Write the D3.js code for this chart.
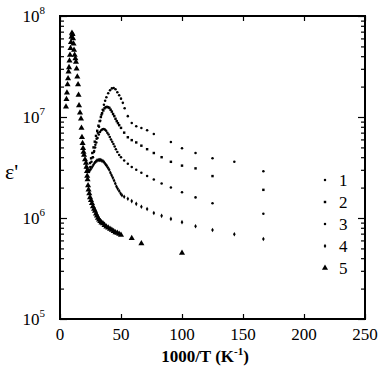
<!DOCTYPE html>
<html>
<head>
<meta charset="utf-8">
<script src="https://cdn.jsdelivr.net/npm/d3@7"></script>
<style>
  body { margin: 0; background: #fff; }
  svg text { font-family: "Liberation Serif", "DejaVu Serif", serif; fill: #000; }
</style>
</head>
<body>
<div id="chart"></div>
<script>
// 1000/T (K^-1) and permittivity values
const s1X = [27.0, 28.0, 29.0, 30.0, 31.0, 32.0, 33.0, 34.0, 35.0, 36.0, 37.0, 38.0, 39.5, 41.0, 42.5, 44.0, 45.5, 47.0, 48.5, 50.0, 51.5, 53.0, 55.6, 58.8, 62.5, 66.7, 71.4, 76.9, 90.9, 100, 111.1, 125, 142.9, 166.7];
const s1Y = [4.0e6, 4.6e6, 5.3e6, 6.1e6, 7.0e6, 8.0e6, 9.2e6, 1.05e7, 1.18e7, 1.32e7, 1.45e7, 1.57e7, 1.72e7, 1.84e7, 1.92e7, 1.94e7, 1.88e7, 1.76e7, 1.64e7, 1.52e7, 1.38e7, 1.22e7, 1.02e7, 8.7e6, 8.1e6, 7.8e6, 7.4e6, 6.8e6, 5.65e6, 4.9e6, 4.4e6, 3.9e6, 3.6e6, 2.9e6];

const s2X = [24.6, 25.5, 26.5, 27.5, 28.5, 29.5, 30.5, 31.5, 32.5, 33.5, 34.5, 35.5, 36.5, 37.5, 38.5, 39.5, 40.5, 41.5, 42.5, 43.5, 44.5, 45.5, 46.5, 47.5, 48.5, 50.0, 52.6, 55.6, 58.8, 62.5, 66.7, 71.4, 76.9, 83.3, 90.9, 100, 111.1, 125, 166.7];
const s2Y = [3.5e6, 3.9e6, 4.4e6, 5.0e6, 5.7e6, 6.5e6, 7.3e6, 8.2e6, 9.1e6, 1.0e7, 1.09e7, 1.16e7, 1.22e7, 1.25e7, 1.26e7, 1.25e7, 1.23e7, 1.18e7, 1.13e7, 1.07e7, 1.02e7, 9.6e6, 9.1e6, 8.7e6, 8.3e6, 7.8e6, 7.0e6, 6.3e6, 5.9e6, 5.6e6, 5.2e6, 4.8e6, 4.4e6, 4.0e6, 3.6e6, 3.3e6, 3.1e6, 2.6e6, 1.9e6];

const s3X = [23.8, 24.8, 25.8, 26.8, 27.8, 28.8, 29.8, 30.8, 31.8, 32.8, 33.8, 34.8, 35.8, 36.8, 37.8, 38.8, 39.8, 40.8, 41.8, 42.8, 43.8, 44.8, 45.8, 47.0, 48.5, 50.0, 52.6, 55.6, 58.8, 62.5, 66.7, 71.4, 76.9, 83.3, 90.9, 100, 111.1, 125, 166.7];
const s3Y = [2.85e6, 3.2e6, 3.6e6, 4.0e6, 4.5e6, 5.0e6, 5.6e6, 6.2e6, 6.7e6, 7.1e6, 7.4e6, 7.55e6, 7.6e6, 7.5e6, 7.3e6, 7.0e6, 6.7e6, 6.35e6, 6.0e6, 5.7e6, 5.4e6, 5.1e6, 4.8e6, 4.5e6, 4.2e6, 4.0e6, 3.7e6, 3.45e6, 3.2e6, 3.0e6, 2.8e6, 2.6e6, 2.4e6, 2.2e6, 2.0e6, 1.8e6, 1.6e6, 1.4e6, 1.1e6];

const s4X = [21.3, 22.3, 23.3, 24.3, 25.3, 26.3, 27.3, 28.3, 29.3, 30.3, 31.3, 32.3, 33.3, 34.3, 35.3, 36.3, 37.3, 38.3, 39.3, 40.3, 41.3, 42.3, 43.3, 44.3, 45.3, 46.3, 47.3, 48.5, 49.7, 50.8, 52.6, 55.6, 58.8, 62.5, 66.7, 71.4, 76.9, 83.3, 90.9, 100, 111.1, 125, 142.9, 166.7];
const s4Y = [3.2e6, 3.05e6, 2.95e6, 2.95e6, 3.05e6, 3.2e6, 3.35e6, 3.5e6, 3.6e6, 3.7e6, 3.75e6, 3.75e6, 3.75e6, 3.7e6, 3.65e6, 3.55e6, 3.4e6, 3.3e6, 3.15e6, 3.0e6, 2.8e6, 2.65e6, 2.5e6, 2.35e6, 2.2e6, 2.05e6, 1.95e6, 1.85e6, 1.75e6, 1.68e6, 1.62e6, 1.55e6, 1.47e6, 1.38e6, 1.29e6, 1.23e6, 1.12e6, 1.05e6, 9.8e5, 9.1e5, 8.3e5, 7.6e5, 6.9e5, 6.2e5];

const s5X = [4.9, 5.3, 5.7, 6.2, 6.6, 7.0, 7.4, 7.8, 8.2, 8.6, 9.0, 9.4, 9.8, 10.3, 10.7, 11.1, 11.5, 12.0, 12.6, 13.1, 13.6, 14.2, 14.8, 15.2, 15.6, 16.4, 17.2, 17.6, 18.0, 18.5, 18.9, 19.3, 19.7, 20.5, 21.3, 21.7, 22.1, 22.3, 22.6, 23.0, 23.4, 24.0, 24.6, 25.4, 26.2, 27.0, 27.9, 28.7, 29.5, 30.3, 31.1, 32.0, 33.0, 34.0, 35.2, 36.5, 38.0, 39.5, 41.0, 42.5, 44.0, 45.5, 47.0, 48.5, 50.0, 58.8, 66.7, 100];
const s5Y = [1.26e7, 1.5e7, 1.74e7, 2.1e7, 2.4e7, 2.8e7, 3.1e7, 3.6e7, 4.1e7, 4.8e7, 5.5e7, 6.2e7, 6.8e7, 6.6e7, 6.0e7, 5.3e7, 4.6e7, 4.1e7, 3.8e7, 3.5e7, 3.0e7, 2.5e7, 2.1e7, 1.65e7, 1.3e7, 1.1e7, 9.6e6, 7.8e6, 6.3e6, 5.5e6, 4.9e6, 4.5e6, 4.2e6, 3.8e6, 3.5e6, 3.2e6, 2.9e6, 2.6e6, 2.4e6, 2.1e6, 1.9e6, 1.75e6, 1.6e6, 1.5e6, 1.4e6, 1.3e6, 1.23e6, 1.17e6, 1.1e6, 1.05e6, 1.0e6, 9.6e5, 9.3e5, 9.0e5, 8.8e5, 8.5e5, 8.2e5, 8.0e5, 7.8e5, 7.6e5, 7.4e5, 7.2e5, 7.1e5, 6.95e5, 6.8e5, 6.3e5, 5.6e5, 4.5e5];

const seriesNames = ["1", "2", "3", "4", "5"];
const xTicks = [0, 50, 100, 150, 200, 250];
const yTicks = [1e5, 1e6, 1e7, 1e8];

const width = 382, height = 373;
const margin = { top: 16, right: 17, bottom: 54, left: 60 };

const svg = d3.select("#chart")
  .append("svg")
  .attr("width", width)
  .attr("height", height);

const x = d3.scaleLinear()
  .domain([0, 250])
  .range([margin.left, width - margin.right]);

const y = d3.scaleLog()
  .domain([1e5, 1e8])
  .range([height - margin.bottom, margin.top]);

// minor log ticks (2..9 in each decade)
const minorY = [];
for (let d = 5; d < 8; d++) {
  for (let m = 2; m <= 9; m++) minorY.push(m * Math.pow(10, d));
}

// axes: ticks point inward on all four sides
const x0 = x.range()[0], x1 = x.range()[1];
const y0 = y.range()[0], y1 = y.range()[1];

svg.append("g")
  .attr("transform", `translate(0,${y0})`)
  .call(d3.axisTop(x).tickValues(xTicks).tickSize(5).tickFormat(""))
  .call(g => g.select(".domain").remove());
svg.append("g")
  .attr("transform", `translate(0,${y1})`)
  .call(d3.axisBottom(x).tickValues(xTicks).tickSize(5).tickFormat(""))
  .call(g => g.select(".domain").remove());

svg.append("g")
  .attr("transform", `translate(${x0},0)`)
  .call(d3.axisRight(y).tickValues(yTicks).tickSize(7).tickFormat(""))
  .call(g => g.select(".domain").remove());
svg.append("g")
  .attr("transform", `translate(${x0},0)`)
  .call(d3.axisRight(y).tickValues(minorY).tickSize(4).tickFormat(""))
  .call(g => g.select(".domain").remove());
svg.append("g")
  .attr("transform", `translate(${x1},0)`)
  .call(d3.axisLeft(y).tickValues(yTicks).tickSize(7).tickFormat(""))
  .call(g => g.select(".domain").remove());
svg.append("g")
  .attr("transform", `translate(${x1},0)`)
  .call(d3.axisLeft(y).tickValues(minorY).tickSize(4).tickFormat(""))
  .call(g => g.select(".domain").remove());

svg.selectAll(".tick line").attr("stroke", "#000").attr("stroke-width", 1.2);

// frame
svg.append("rect")
  .attr("x", x0)
  .attr("y", y1)
  .attr("width", x1 - x0)
  .attr("height", y0 - y1)
  .attr("fill", "none")
  .attr("stroke", "#000")
  .attr("stroke-width", 2);

// x tick labels
svg.selectAll(".xlab")
  .data(xTicks)
  .enter()
  .append("text")
  .attr("x", d => x(d))
  .attr("y", y0 + 21)
  .attr("text-anchor", "middle")
  .attr("font-size", "17px")
  .text(d => d);

// y tick labels: 10 with superscript exponent
const ylab = svg.selectAll(".ylab")
  .data(yTicks)
  .enter()
  .append("text")
  .attr("x", x0 - 15)
  .attr("y", d => y(d) + 6)
  .attr("text-anchor", "end")
  .attr("font-size", "17px");
ylab.append("tspan").text("10");
ylab.append("tspan")
  .attr("dy", -8)
  .attr("font-size", "11px")
  .text(d => Math.round(Math.log10(d)));

// axis titles
svg.append("text")
  .attr("x", 205)
  .attr("y", 362)
  .attr("text-anchor", "middle")
  .attr("font-size", "17px")
  .attr("font-weight", "bold")
  .html('1000/T (K<tspan dy="-7" font-size="11px">-1</tspan><tspan dy="7">)</tspan>');

svg.append("text")
  .attr("x", 5)
  .attr("y", 179)
  .attr("font-size", "22px")
  .text("ε'");

// series
const series = [
  { name: seriesNames[0], xs: s1X, ys: s1Y, sym: d3.symbolCircle, size: 5 },
  { name: seriesNames[1], xs: s2X, ys: s2Y, sym: d3.symbolSquare, size: 6 },
  { name: seriesNames[2], xs: s3X, ys: s3Y, sym: d3.symbolCircle, size: 5 },
  { name: seriesNames[3], xs: s4X, ys: s4Y, sym: d3.symbolDiamond, size: 6 },
  { name: seriesNames[4], xs: s5X, ys: s5Y, sym: d3.symbolTriangle, size: 16 }
];

series.forEach(s => {
  const pts = s.xs.map((v, i) => [v, s.ys[i]]);
  svg.append("g")
    .selectAll("path")
    .data(pts)
    .enter()
    .append("path")
    .attr("transform", d => `translate(${x(d[0])},${y(d[1])})`)
    .attr("d", d3.symbol().type(s.sym).size(s.size))
    .attr("fill", "#000");
});

// legend
const legend = svg.append("g");
series.forEach((s, i) => {
  const ly = 180 + i * 22;
  legend.append("path")
    .attr("transform", `translate(325,${ly})`)
    .attr("d", d3.symbol().type(s.sym).size(s.size))
    .attr("fill", "#000");
  legend.append("text")
    .attr("x", 339)
    .attr("y", ly + 6)
    .attr("font-size", "17px")
    .text(s.name);
});
</script>
</body>
</html>
